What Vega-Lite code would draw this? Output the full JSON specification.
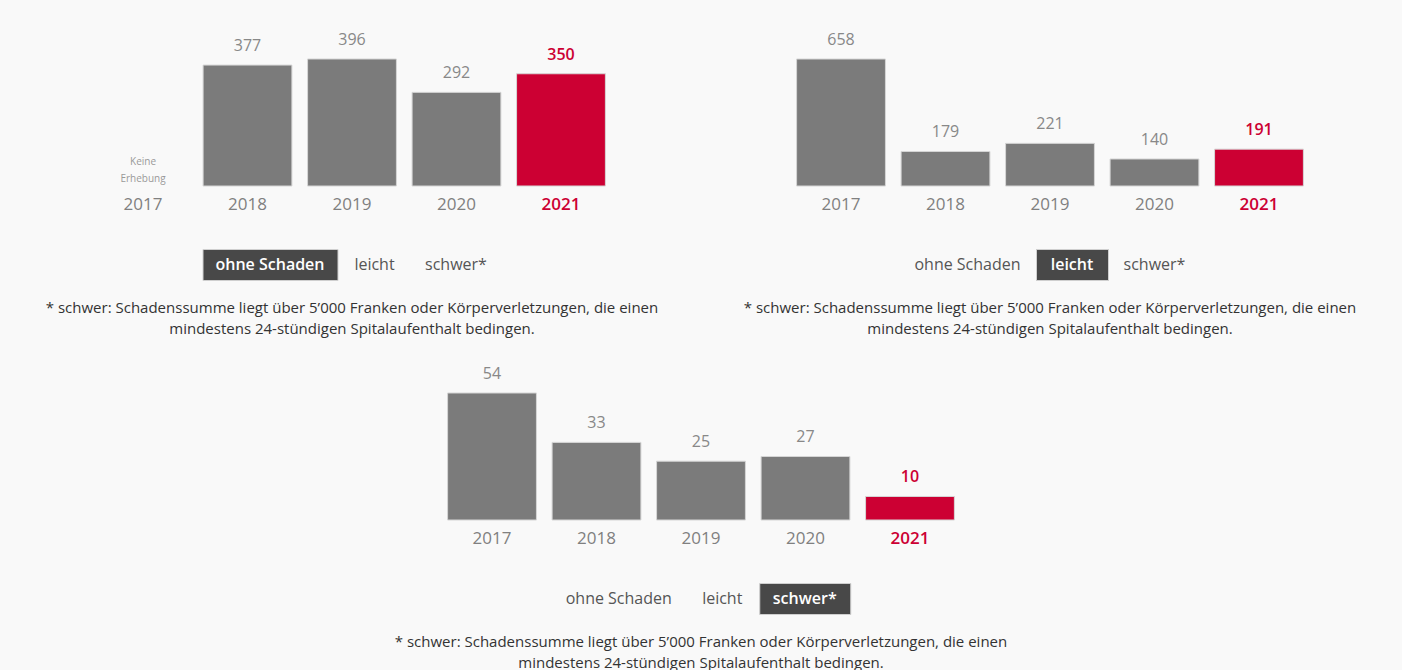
{
  "$schema": "https://vega.github.io/schema/vega-lite/v6.json",
  "background": "#f9f9f9",
  "padding": {"left": 45, "top": 20, "right": 45, "bottom": 0},
  "config": {
    "view": {"stroke": null},
    "font": "Open Sans",
    "text": {"font": "Open Sans"}
  },
  "datasets": {
    "ohne": [
      {"year": "2017", "value": null, "note": "Keine\nErhebung"},
      {"year": "2018", "value": 377},
      {"year": "2019", "value": 396},
      {"year": "2020", "value": 292},
      {"year": "2021", "value": 350}
    ],
    "leicht": [
      {"year": "2017", "value": 658},
      {"year": "2018", "value": 179},
      {"year": "2019", "value": 221},
      {"year": "2020", "value": 140},
      {"year": "2021", "value": 191}
    ],
    "schwer": [
      {"year": "2017", "value": 54},
      {"year": "2018", "value": 33},
      {"year": "2019", "value": 25},
      {"year": "2020", "value": 27},
      {"year": "2021", "value": 10}
    ],
    "tabs": [
      {"tab": "ohne Schaden"},
      {"tab": "leicht"},
      {"tab": "schwer*"}
    ],
    "footnote": [
      {"text": "* schwer: Schadenssumme liegt über 5’000 Franken oder Körperverletzungen, die einen\nmindestens 24-stündigen Spitalaufenthalt bedingen."}
    ]
  },
  "vconcat": [
    {
      "hconcat": [
        {
          "vconcat": [
            {
              "width": 614, "height": 166,
              "data": {"name": "ohne"},
              "encoding": {
                "x": {"field": "year", "type": "ordinal",
                  "scale": {"domain": ["2017","2018","2019","2020","2021"], "paddingInner": 0.15, "paddingOuter": 0.513},
                  "axis": {"title": null, "domain": false, "ticks": false, "labelPadding": 10, "labelAngle": 0, "labelFontSize": 17, "labelFont": "Open Sans",
                    "labelColor": {"condition": {"test": "datum.value === '2021'", "value": "#cc0033"}, "value": "#808080"},
                    "labelFontWeight": {"condition": {"test": "datum.value === '2021'", "value": 600}, "value": 400}}}
              },
              "layer": [
                {"transform": [{"filter": "datum.value != null"}],
                 "mark": {"type": "bar", "stroke": "#d6d6d6", "strokeWidth": 1},
                 "encoding": {"y": {"field": "value", "type": "quantitative", "scale": {"domain": [0, 517.6], "nice": false}, "axis": null},
                   "color": {"condition": {"test": "datum.year === '2021'", "value": "#cc0033"}, "value": "#7b7b7b"}}},
                {"transform": [{"filter": "datum.value != null && datum.year !== '2021'"}],
                 "mark": {"type": "text", "dy": -14, "baseline": "alphabetic", "fontSize": 16, "color": "#888888"},
                 "encoding": {"y": {"field": "value", "type": "quantitative", "scale": {"domain": [0, 517.6], "nice": false}, "axis": null}, "text": {"field": "value"}}},
                {"transform": [{"filter": "datum.year === '2021'"}],
                 "mark": {"type": "text", "dy": -14, "baseline": "alphabetic", "fontSize": 16, "fontWeight": 600, "color": "#cc0033"},
                 "encoding": {"y": {"field": "value", "type": "quantitative", "scale": {"domain": [0, 517.6], "nice": false}, "axis": null}, "text": {"field": "value"}}},
                {"transform": [{"filter": "datum.note"}],
                 "mark": {"type": "text", "dy": -24, "baseline": "middle", "fontSize": 10, "lineBreak": "\n", "lineHeight": 17, "color": "#999999"},
                 "encoding": {"y": {"datum": 0, "type": "quantitative"}, "text": {"field": "note"}}}
              ]
            },
            {
              "vconcat": [
                {
                  "hconcat": [
                    {"width": 135, "height": 31, "data": {"name": "tabs"}, "transform": [{"filter": "datum.tab === 'ohne Schaden'"}],
                     "view": {"fill": "#484848", "stroke": "#cfcfcf"},
                     "mark": {"type": "text", "fontSize": 16, "fontWeight": 600, "color": "#ffffff", "baseline": "middle"},
                     "encoding": {"text": {"field": "tab"}}},
                    {"width": 72, "height": 31, "data": {"name": "tabs"}, "transform": [{"filter": "datum.tab === 'leicht'"}],
                     "mark": {"type": "text", "fontSize": 16, "color": "#555555", "baseline": "middle"},
                     "encoding": {"text": {"field": "tab"}}},
                    {"width": 91, "height": 31, "data": {"name": "tabs"}, "transform": [{"filter": "datum.tab === 'schwer*'"}],
                     "mark": {"type": "text", "fontSize": 16, "color": "#555555", "baseline": "middle"},
                     "encoding": {"text": {"field": "tab"}}}
                  ],
                  "spacing": 0
                },
                {
                  "width": 614, "height": 43,
                  "data": {"name": "footnote"},
                  "mark": {"type": "text", "fontSize": 15, "dy": -10.5, "lineBreak": "\n", "lineHeight": 21, "align": "center", "baseline": "middle", "color": "#333333"},
                  "encoding": {"text": {"field": "text"}}
                }
              ],
              "spacing": 16, "center": true
            }
          ],
          "spacing": 36, "center": true
        },
        {
          "vconcat": [
            {
              "width": 614, "height": 166,
              "data": {"name": "leicht"},
              "encoding": {
                "x": {"field": "year", "type": "ordinal",
                  "scale": {"domain": ["2017","2018","2019","2020","2021"], "paddingInner": 0.15, "paddingOuter": 0.513},
                  "axis": {"title": null, "domain": false, "ticks": false, "labelPadding": 10, "labelAngle": 0, "labelFontSize": 17, "labelFont": "Open Sans",
                    "labelColor": {"condition": {"test": "datum.value === '2021'", "value": "#cc0033"}, "value": "#808080"},
                    "labelFontWeight": {"condition": {"test": "datum.value === '2021'", "value": 600}, "value": 400}}}
              },
              "layer": [
                {"mark": {"type": "bar", "stroke": "#d6d6d6", "strokeWidth": 1},
                 "encoding": {"y": {"field": "value", "type": "quantitative", "scale": {"domain": [0, 860.1], "nice": false}, "axis": null},
                   "color": {"condition": {"test": "datum.year === '2021'", "value": "#cc0033"}, "value": "#7b7b7b"}}},
                {"transform": [{"filter": "datum.year !== '2021'"}],
                 "mark": {"type": "text", "dy": -14, "baseline": "alphabetic", "fontSize": 16, "color": "#888888"},
                 "encoding": {"y": {"field": "value", "type": "quantitative", "scale": {"domain": [0, 860.1], "nice": false}, "axis": null}, "text": {"field": "value"}}},
                {"transform": [{"filter": "datum.year === '2021'"}],
                 "mark": {"type": "text", "dy": -14, "baseline": "alphabetic", "fontSize": 16, "fontWeight": 600, "color": "#cc0033"},
                 "encoding": {"y": {"field": "value", "type": "quantitative", "scale": {"domain": [0, 860.1], "nice": false}, "axis": null}, "text": {"field": "value"}}}
              ]
            },
            {
              "vconcat": [
                {
                  "hconcat": [
                    {"width": 135, "height": 31, "data": {"name": "tabs"}, "transform": [{"filter": "datum.tab === 'ohne Schaden'"}],
                     "mark": {"type": "text", "fontSize": 16, "color": "#555555", "baseline": "middle"},
                     "encoding": {"text": {"field": "tab"}}},
                    {"width": 72, "height": 31, "data": {"name": "tabs"}, "transform": [{"filter": "datum.tab === 'leicht'"}],
                     "view": {"fill": "#484848", "stroke": "#cfcfcf"},
                     "mark": {"type": "text", "fontSize": 16, "fontWeight": 600, "color": "#ffffff", "baseline": "middle"},
                     "encoding": {"text": {"field": "tab"}}},
                    {"width": 91, "height": 31, "data": {"name": "tabs"}, "transform": [{"filter": "datum.tab === 'schwer*'"}],
                     "mark": {"type": "text", "fontSize": 16, "color": "#555555", "baseline": "middle"},
                     "encoding": {"text": {"field": "tab"}}}
                  ],
                  "spacing": 0
                },
                {
                  "width": 614, "height": 43,
                  "data": {"name": "footnote"},
                  "mark": {"type": "text", "fontSize": 15, "dy": -10.5, "lineBreak": "\n", "lineHeight": 21, "align": "center", "baseline": "middle", "color": "#333333"},
                  "encoding": {"text": {"field": "text"}}
                }
              ],
              "spacing": 16, "center": true
            }
          ],
          "spacing": 36, "center": true
        }
      ],
      "spacing": 84
    },
    {
      "vconcat": [
        {
          "width": 614, "height": 166,
          "data": {"name": "schwer"},
          "encoding": {
            "x": {"field": "year", "type": "ordinal",
              "scale": {"domain": ["2017","2018","2019","2020","2021"], "paddingInner": 0.15, "paddingOuter": 0.513},
              "axis": {"title": null, "domain": false, "ticks": false, "labelPadding": 10, "labelAngle": 0, "labelFontSize": 17, "labelFont": "Open Sans",
                "labelColor": {"condition": {"test": "datum.value === '2021'", "value": "#cc0033"}, "value": "#808080"},
                "labelFontWeight": {"condition": {"test": "datum.value === '2021'", "value": 600}, "value": 400}}}
          },
          "layer": [
            {"mark": {"type": "bar", "stroke": "#d6d6d6", "strokeWidth": 1},
             "encoding": {"y": {"field": "value", "type": "quantitative", "scale": {"domain": [0, 70.58], "nice": false}, "axis": null},
               "color": {"condition": {"test": "datum.year === '2021'", "value": "#cc0033"}, "value": "#7b7b7b"}}},
            {"transform": [{"filter": "datum.year !== '2021'"}],
             "mark": {"type": "text", "dy": -14, "baseline": "alphabetic", "fontSize": 16, "color": "#888888"},
             "encoding": {"y": {"field": "value", "type": "quantitative", "scale": {"domain": [0, 70.58], "nice": false}, "axis": null}, "text": {"field": "value"}}},
            {"transform": [{"filter": "datum.year === '2021'"}],
             "mark": {"type": "text", "dy": -14, "baseline": "alphabetic", "fontSize": 16, "fontWeight": 600, "color": "#cc0033"},
             "encoding": {"y": {"field": "value", "type": "quantitative", "scale": {"domain": [0, 70.58], "nice": false}, "axis": null}, "text": {"field": "value"}}}
          ]
        },
        {
          "vconcat": [
            {
              "hconcat": [
                {"width": 135, "height": 31, "data": {"name": "tabs"}, "transform": [{"filter": "datum.tab === 'ohne Schaden'"}],
                 "mark": {"type": "text", "fontSize": 16, "color": "#555555", "baseline": "middle"},
                 "encoding": {"text": {"field": "tab"}}},
                {"width": 72, "height": 31, "data": {"name": "tabs"}, "transform": [{"filter": "datum.tab === 'leicht'"}],
                 "mark": {"type": "text", "fontSize": 16, "color": "#555555", "baseline": "middle"},
                 "encoding": {"text": {"field": "tab"}}},
                {"width": 91, "height": 31, "data": {"name": "tabs"}, "transform": [{"filter": "datum.tab === 'schwer*'"}],
                 "view": {"fill": "#484848", "stroke": "#cfcfcf"},
                 "mark": {"type": "text", "fontSize": 16, "fontWeight": 600, "color": "#ffffff", "baseline": "middle"},
                 "encoding": {"text": {"field": "tab"}}}
              ],
              "spacing": 0
            },
            {
              "width": 614, "height": 43,
              "data": {"name": "footnote"},
              "mark": {"type": "text", "fontSize": 15, "dy": -10.5, "lineBreak": "\n", "lineHeight": 21, "align": "center", "baseline": "middle", "color": "#333333"},
              "encoding": {"text": {"field": "text"}}
            }
          ],
          "spacing": 16, "center": true
        }
      ],
      "spacing": 36, "center": true
    }
  ],
  "spacing": 14, "center": true
}
